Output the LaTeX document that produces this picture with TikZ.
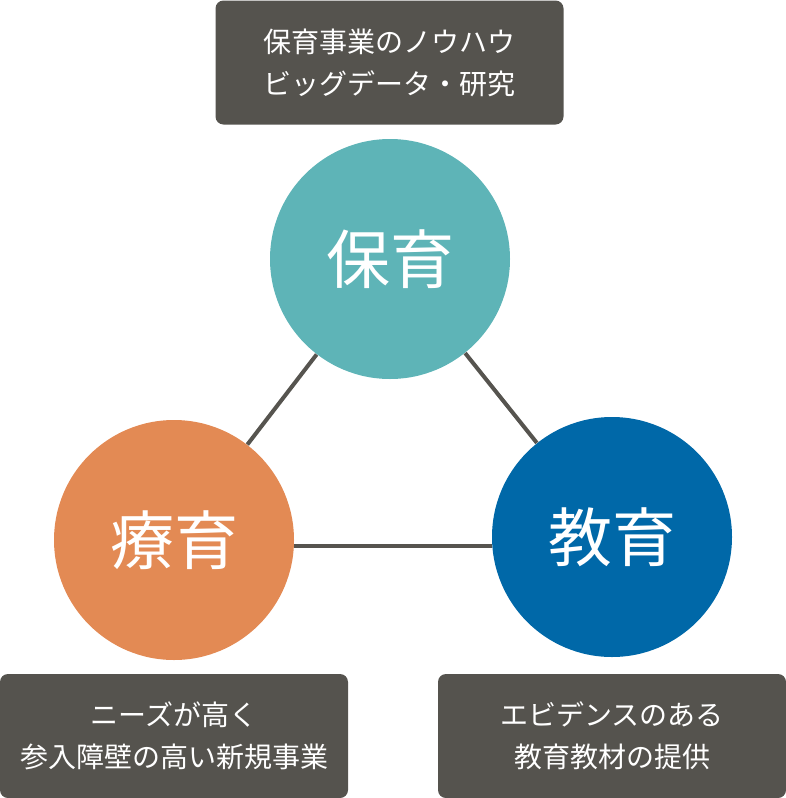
\documentclass[tikz,border=0pt]{standalone}
\usepackage{fontspec}
\newfontfamily\jp{Noto Sans CJK JP}
\definecolor{notegray}{HTML}{55534E}
\definecolor{linkgray}{HTML}{56544F}
\definecolor{hoikuteal}{HTML}{5EB4B7}
\definecolor{ryoikuorange}{HTML}{E38A54}
\definecolor{kyoikublue}{HTML}{0068A8}

\begin{document}
\begin{tikzpicture}[x=0.5pt,y=-0.5pt,
  note/.style={fill=notegray,rounded corners=4pt,inner sep=0pt,
    minimum width=174pt,minimum height=62pt,text=white,align=center,
    font=\jp\fontsize{14}{21}\selectfont},
  area/.style={circle,inner sep=0pt,minimum size=120pt,text=white,
    font=\jp\fontsize{32}{32}\selectfont},
  link/.style={draw=linkgray,line width=2pt}]
  \useasboundingbox (0,0) rectangle (786,798);
  % the three fields
  \node[area,fill=hoikuteal] (hoiku) at (390,259) {保育};
  \node[area,fill=ryoikuorange] (ryoiku) at (174,540) {療育};
  \node[area,fill=kyoikublue] (kyoiku) at (612,537) {教育};
  \draw[link] (hoiku) -- (ryoiku);
  \draw[link] (hoiku) -- (kyoiku);
  \coordinate (base) at ([yshift=-3pt]ryoiku.east);
  \draw[link] (base) -- (base -| kyoiku.west);
  % notes
  \node[note] (knowhow) at (389.5,62.5) {保育事業のノウハウ\\ビッグデータ・研究};
  \node[note] (needs) at (174,736) {ニーズが高く\\参入障壁の高い新規事業};
  \node[note] (evidence) at (612,736) {エビデンスのある\\教育教材の提供};
\end{tikzpicture}
\end{document}
